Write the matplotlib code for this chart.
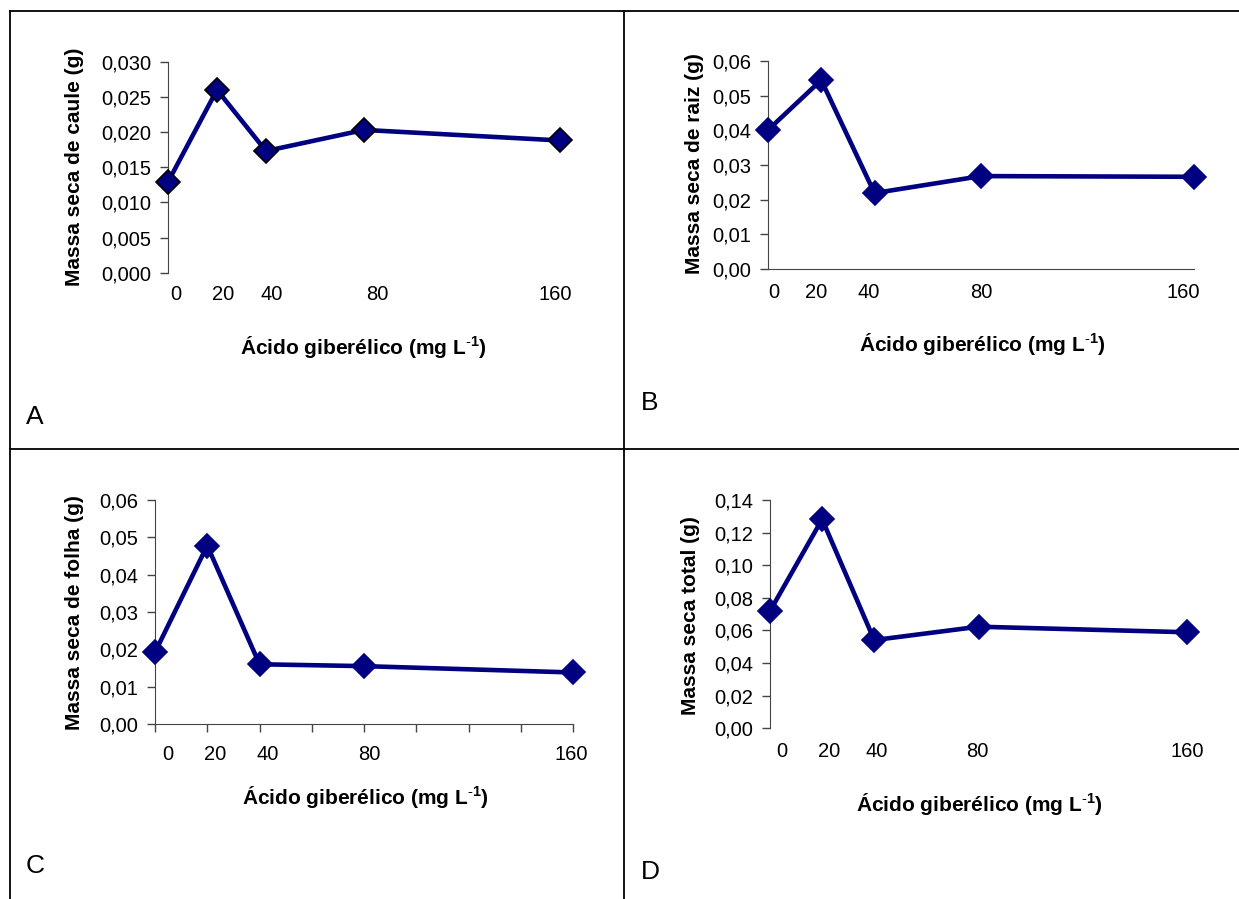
import matplotlib
matplotlib.use("Agg")
from matplotlib import pyplot as plt
from matplotlib.lines import Line2D
import numpy as np

plt.rcParams['font.family'] = ['Liberation Sans', 'DejaVu Sans']
plt.rcParams['mathtext.fontset'] = 'custom'
plt.rcParams['mathtext.rm'] = 'Liberation Sans'
plt.rcParams['mathtext.bf'] = 'Liberation Sans:bold'
plt.rcParams['mathtext.default'] = 'bf'

# dados
doses = [0, 20, 40, 80, 160]
dose_labels = ["0", "20", "40", "80", "160"]

caule = [0.0129, 0.0260, 0.0173, 0.0203, 0.0188]
raiz = [0.0401, 0.0545, 0.0219, 0.0268, 0.0266]
folha = [0.0192, 0.0478, 0.0160, 0.0155, 0.0138]
total = [0.0719, 0.1282, 0.0541, 0.0623, 0.0589]

yticks_caule = ["0,000", "0,005", "0,010", "0,015", "0,020", "0,025", "0,030"]
yticks_raiz = ["0,00", "0,01", "0,02", "0,03", "0,04", "0,05", "0,06"]
yticks_folha = ["0,00", "0,01", "0,02", "0,03", "0,04", "0,05", "0,06"]
yticks_total = ["0,00", "0,02", "0,04", "0,06", "0,08", "0,10", "0,12", "0,14"]

ylabels = ["Massa seca de caule (g)", "Massa seca de raiz (g)",
           "Massa seca de folha (g)", "Massa seca total (g)"]
xlabel = "Ácido giberélico (mg L$^{\\text{-}1}$)"
letters = ["A", "B", "C", "D"]

W, H = 1239, 899
fig = plt.figure(figsize=(W / 100, H / 100), dpi=100)

def fx(px):
    return px / W

def fy(py):
    return 1 - py / H

# layout in pixels: (x0, x1, y_top, y_bottom)
boxes = [(168, 560, 61.7, 272.7), (768, 1194, 61, 269),
         (155, 573, 500, 724), (770, 1187, 500, 728.3)]
ymax = [0.030, 0.06, 0.06, 0.14]
ystep = [0.005, 0.01, 0.01, 0.02]
series = [caule, raiz, folha, total]
ytl = [yticks_caule, yticks_raiz, yticks_folha, yticks_total]
label_pos = [[3.3, 22.4, 42.4, 85.3, 158], [2.2, 18, 37.8, 80.1, 155.8],
             [5, 23, 43.3, 81.9, 159.2], [4.6, 22.8, 41, 79.7, 160]]
xpad = [9, 10, 15, 10]
ylab_xy = [(75, 167), (695, 164), (74.5, 613), (690, 615.5)]
xlab_xy = [(363.5, 347), (982, 344), (365, 797), (979, 804)]
letter_xy = [(34.5, 417), (650, 402.5), (35, 866), (650, 872)]

navy = "#000080"

for i in range(4):
    x0, x1, yt, yb = boxes[i]
    ax = fig.add_axes([fx(x0), fy(yb), fx(x1 - x0), (yb - yt) / H])
    edge = "black" if i == 0 else navy
    ax.plot(doses, series[i], color=navy, lw=3.3, marker="D", markersize=12.5,
            markerfacecolor=navy, markeredgecolor=edge, markeredgewidth=1.2,
            clip_on=False, zorder=3)
    ax.set_xlim(0, 160)
    ax.set_ylim(0, ymax[i])
    ax.set_yticks(np.arange(len(ytl[i])) * ystep[i])
    ax.set_yticklabels(ytl[i])
    ax.tick_params(axis="y", length=6, width=1, pad=6, labelsize=14.5, color="#444444")
    ax.set_xticks(label_pos[i])
    ax.set_xticklabels(dose_labels)
    ax.tick_params(axis="x", which="major", length=0, pad=xpad[i], labelsize=14.5)
    for s in ["top", "right"]:
        ax.spines[s].set_visible(False)
    ax.spines["left"].set_color("#444444")
    if i in (1, 2):
        ax.spines["bottom"].set_color("#444444")
    else:
        ax.spines["bottom"].set_visible(False)
    if i == 2:
        ax.set_xticks(np.arange(0, 161, 20), minor=True)
        ax.tick_params(axis="x", which="minor", length=6, width=1, color="#444444")
    ax.patch.set_alpha(0)

    fig.text(fx(ylab_xy[i][0]), fy(ylab_xy[i][1]), ylabels[i], rotation=90,
             ha="center", va="center", fontsize=15, fontweight="bold")
    fig.text(fx(xlab_xy[i][0]), fy(xlab_xy[i][1]), xlabel,
             ha="center", va="center", fontsize=15, fontweight="bold")
    fig.text(fx(letter_xy[i][0]), fy(letter_xy[i][1]), letters[i],
             ha="center", va="center", fontsize=19)

# table lines
lines = [((10, 1239), (11, 11)), ((10, 1239), (449, 449)),
         ((10, 10), (11, 899)), ((624, 624), (11, 899))]
for xs, ys in lines:
    fig.add_artist(Line2D([fx(xs[0]), fx(xs[1])], [fy(ys[0]), fy(ys[1])],
                          color="black", lw=1.3))

plt.savefig("out.png", dpi=100)
